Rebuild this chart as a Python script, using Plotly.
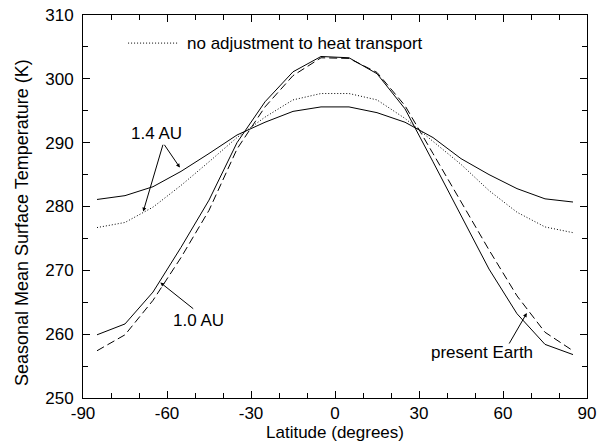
import plotly.graph_objects as go

lat = [-85, -75, -65, -55, -45, -35, -25, -15, -5, 5, 15, 25, 35, 45, 55, 65, 75, 85]
t_14au = [281.1, 281.7, 283.1, 285.5, 288.3, 291.2, 293.2, 294.9, 295.6, 295.6, 294.7, 293.2, 290.8, 287.5, 285.0, 282.8, 281.2, 280.7]
t_14au_noadj = [276.7, 277.5, 279.9, 283.3, 287.0, 290.8, 294.0, 296.7, 297.7, 297.7, 296.7, 293.8, 290.2, 286.6, 282.5, 279.1, 276.8, 275.9]
t_10au = [259.9, 261.6, 266.6, 273.6, 281.0, 290.0, 296.4, 301.1, 303.5, 303.3, 300.8, 295.3, 287.0, 278.5, 270.2, 263.2, 258.4, 256.8]
t_earth = [257.4, 259.9, 265.3, 272.0, 279.4, 289.0, 295.6, 300.5, 303.3, 303.2, 301.0, 295.8, 288.3, 280.7, 273.2, 266.0, 260.3, 257.4]

x_ticks = [-90, -60, -30, 0, 30, 60, 90]
y_ticks = [250, 260, 270, 280, 290, 300, 310]

FONT = "Liberation Sans, Arial, Helvetica, sans-serif"
fig = go.Figure()
line_style = dict(color="black", width=1)
fig.add_trace(go.Scatter(x=lat, y=t_14au, mode="lines", line=dict(line_style)))
fig.add_trace(go.Scatter(x=lat, y=t_14au_noadj, mode="lines", line=dict(line_style, dash="1px,2px")))
fig.add_trace(go.Scatter(x=lat, y=t_10au, mode="lines", line=dict(line_style)))
fig.add_trace(go.Scatter(x=lat, y=t_earth, mode="lines", line=dict(line_style, dash="8px,4px")))

# legend sample
fig.add_shape(type="line", x0=-73.9, x1=-56.1, y0=305.6, y1=305.6, xref="x", yref="y",
              line=dict(color="black", width=1, dash="1px,2px"))
fig.add_annotation(x=-53.6, y=305.6, text="no adjustment to heat transport", showarrow=False,
                   xanchor="left", yanchor="middle", font=dict(size=17, color="black", family=FONT))

arrow = dict(showarrow=True, arrowhead=2, arrowsize=0.8, arrowwidth=1, arrowcolor="black",
             axref="x", ayref="y", xref="x", yref="y", text="")
fig.add_annotation(x=-55.4, y=286.1, ax=-61.3, ay=289.9, **arrow)
fig.add_annotation(x=-68.5, y=279.2, ax=-61.3, ay=289.9, **arrow)
fig.add_annotation(x=-62.4, y=268.1, ax=-50.1, ay=263.8, **arrow)
fig.add_annotation(x=68.5, y=263.3, ax=61.9, ay=258.3, **arrow)

txt = dict(showarrow=False, xref="x", yref="y", font=dict(size=17, color="black", family=FONT))
fig.add_annotation(x=-63.6, y=291.5, text="1.4 AU", **txt)
fig.add_annotation(x=-48.9, y=262.2, text="1.0 AU", **txt)
fig.add_annotation(x=52.5, y=257.2, text="present Earth", **txt)

# axis titles
fig.add_annotation(x=-0.121, y=0.457, xref="paper", yref="paper", showarrow=False, textangle=-90,
                   text="Seasonal Mean Surface Temperature (K)", xanchor="center", yanchor="middle",
                   font=dict(size=18, color="black", family=FONT))
fig.add_annotation(x=0.5, y=-0.0888, xref="paper", yref="paper", showarrow=False,
                   text="Latitude (degrees)", xanchor="center", yanchor="middle",
                   font=dict(size=17, color="black", family=FONT))

axis_common = dict(showgrid=False, zeroline=False, showline=True, linecolor="black", linewidth=1,
                   mirror="ticks", ticks="inside", ticklen=7, tickcolor="black", tickwidth=1,
                   automargin=False, tickfont=dict(size=17, color="black", family=FONT))
fig.update_xaxes(range=[-90, 90], tickvals=x_ticks, ticktext=[str(v) for v in x_ticks],
                 minor=dict(dtick=10, ticks="inside", ticklen=5, tickcolor="black"),
                 **axis_common)
fig.update_yaxes(range=[250, 310], tickvals=y_ticks, ticktext=[str(v) for v in y_ticks],
                 minor=dict(dtick=5, ticks="inside", ticklen=5, tickcolor="black"),
                 ticklabelstandoff=5, **axis_common)
fig.update_layout(width=608, height=442, margin=dict(l=83, r=21, t=15, b=44),
                  plot_bgcolor="white", paper_bgcolor="white", showlegend=False)
fig.write_html("out.html")
